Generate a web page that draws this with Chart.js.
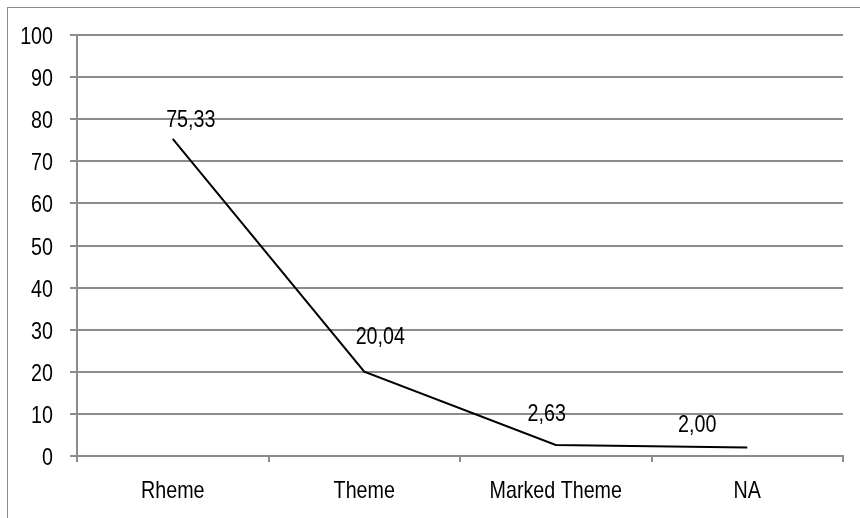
<!DOCTYPE html>
<html lang="en">
<head>
  <meta charset="UTF-8">
  <title>Theme / Rheme</title>
  <script src="https://cdn.jsdelivr.net/npm/chart.js"></script>
  <style>
    html, body {
      margin: 0;
      padding: 0;
      background: #ffffff;
      overflow: hidden;
    }
    #wrap {
      position: relative;
      width: 860px;
      height: 518px;
    }
    #frame {
      position: absolute;
      left: 7px;
      top: 7px;
      width: 900px;
      height: 600px;
      border: 1px solid #8c8c8c;
    }
    canvas {
      position: absolute;
      left: 0;
      top: 0;
    }
  </style>
</head>
<body>
  <div id="wrap">
    <div id="frame"></div>
    <canvas id="themeChart" width="860" height="518"></canvas>
  </div>

  <script>
    const categories = ['Rheme', 'Theme', 'Marked Theme', 'NA'];
    const values = [75.33, 20.04, 2.63, 2.00];
    const valueLabels = ['75,33', '20,04', '2,63', '2,00'];
    const yTicks = [0, 10, 20, 30, 40, 50, 60, 70, 80, 90, 100];

    const FONT = '24px "Liberation Sans", Arial, sans-serif';
    const NARROW = 0.82; // squeeze text horizontally, narrow-font look

    // label placement relative to each point (dx, dy to the baseline)
    const labelShift = [[18, -12], [16, -28], [-9, -24], [-50, -16]];

    function narrowText(ctx, text, x, y, align) {
      ctx.save();
      ctx.translate(x, y);
      ctx.scale(NARROW, 1);
      ctx.textAlign = align;
      ctx.textBaseline = 'alphabetic';
      ctx.fillText(text, 0, 0);
      ctx.restore();
    }

    const textLayer = {
      id: 'textLayer',
      afterDraw(chart) {
        const ctx = chart.ctx;
        const xs = chart.scales.x;
        const ys = chart.scales.y;
        ctx.save();
        ctx.font = FONT;
        ctx.fillStyle = '#000';

        yTicks.forEach(v => {
          narrowText(ctx, String(v), 53, ys.getPixelForValue(v) + 9, 'right');
        });
        categories.forEach((c, i) => {
          narrowText(ctx, c, xs.getPixelForValue(i), 498, 'center');
        });

        const meta = chart.getDatasetMeta(0);
        meta.data.forEach((pt, i) => {
          const s = labelShift[i];
          narrowText(ctx, valueLabels[i], pt.x + s[0], pt.y + s[1], 'center');
        });
        ctx.restore();
      }
    };

    const ctx = document.getElementById('themeChart').getContext('2d');
    new Chart(ctx, {
      type: 'line',
      data: {
        labels: categories,
        datasets: [{
          data: values,
          borderColor: '#000',
          borderWidth: 2,
          pointRadius: 0,
          tension: 0,
          fill: false
        }]
      },
      options: {
        responsive: false,
        animation: false,
        layout: { padding: { top: 35, right: 17, left: 0, bottom: 0 } },
        plugins: {
          legend: { display: false },
          tooltip: { enabled: false }
        },
        scales: {
          x: {
            offset: true,
            grid: {
              offset: true,
              drawOnChartArea: false,
              drawTicks: true,
              tickLength: 6,
              color: '#8c8c8c',
              lineWidth: 2
            },
            border: { color: '#8c8c8c', width: 2 },
            ticks: { display: false },
            afterFit(scale) { scale.height = 62; }
          },
          y: {
            min: 0,
            max: 100,
            afterBuildTicks(scale) {
              scale.ticks = yTicks.map(v => ({ value: v }));
            },
            grid: {
              color: '#8c8c8c',
              lineWidth: 2,
              tickLength: 7
            },
            border: { color: '#8c8c8c', width: 2 },
            ticks: { display: false },
            afterFit(scale) { scale.width = 77; }
          }
        }
      },
      plugins: [textLayer]
    });
  </script>
</body>
</html>
